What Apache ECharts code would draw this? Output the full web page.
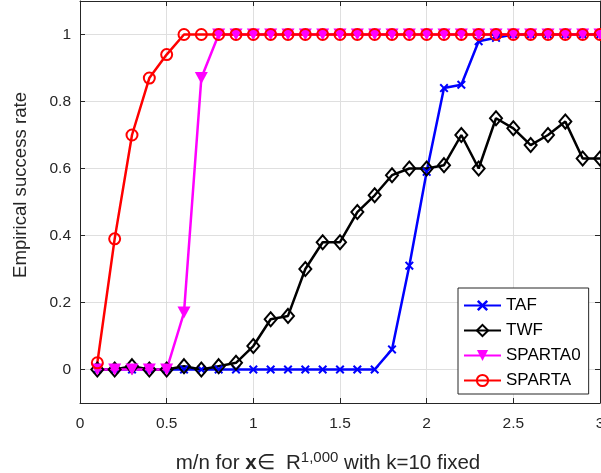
<!DOCTYPE html>
<html>
<head>
<meta charset="utf-8">
<script src="https://cdn.jsdelivr.net/npm/echarts@6/dist/echarts.min.js"></script>
<style>
html, body { margin: 0; padding: 0; background: #fff; }
#chart { width: 601px; height: 473px; }
</style>
</head>
<body>
<div id="chart"></div>
<script>
const xValues = [0.1, 0.2, 0.3, 0.4, 0.5, 0.6, 0.7, 0.8, 0.9, 1.0,
	1.1, 1.2, 1.3, 1.4, 1.5, 1.6, 1.7, 1.8, 1.9, 2.0,
	2.1, 2.2, 2.3, 2.4, 2.5, 2.6, 2.7, 2.8, 2.9, 3.0]
const taf = [0, 0, 0, 0, 0, 0, 0, 0, 0, 0,
	0, 0, 0, 0, 0, 0, 0, 0.06, 0.31, 0.59,
	0.84, 0.85, 0.98, 0.99, 1, 1, 1, 1, 1, 1]
const twf = [0, 0, 0.01, 0, 0, 0.01, 0, 0.01, 0.02, 0.07,
	0.15, 0.16, 0.30, 0.38, 0.38, 0.47, 0.52, 0.58, 0.60, 0.60,
	0.61, 0.70, 0.60, 0.75, 0.72, 0.67, 0.70, 0.74, 0.63, 0.63]
const sparta0 = [0, 0, 0, 0, 0, 0.17, 0.87, 1, 1, 1,
	1, 1, 1, 1, 1, 1, 1, 1, 1, 1,
	1, 1, 1, 1, 1, 1, 1, 1, 1, 1]
const sparta = [0.02, 0.39, 0.70, 0.87, 0.94, 1, 1, 1, 1, 1,
	1, 1, 1, 1, 1, 1, 1, 1, 1, 1,
	1, 1, 1, 1, 1, 1, 1, 1, 1, 1]
const yTicks = [0, 0.2, 0.4, 0.6, 0.8, 1]

const font = "Liberation Sans"
const axisColor = "#262626"
const pairs = (ys) => xValues.map((x, i) => [x, ys[i]])

const crossPath = "path://M0,1.6L1.6,0L5,3.4L8.4,0L10,1.6L6.6,5L10,8.4L8.4,10L5,6.6L1.6,10L0,8.4L3.4,5Z"
const triDownPath = "path://M0,0L10,0L5,10Z"

const chart = echarts.init(document.getElementById("chart"))

const lineSeries = (name, ys, color, symbol, size) => ({
	name: name,
	type: "line",
	data: pairs(ys),
	symbol: symbol,
	symbolSize: size,
	showAllSymbol: true,
	lineStyle: { color: color, width: 2.5 },
	itemStyle: { color: color },
	emphasis: { disabled: true },
	animation: false
})

const option = {
	backgroundColor: "#fff",
	textStyle: { fontFamily: font },
	grid: { left: 80, right: 1, top: 1, bottom: 70, outerBoundsMode: "none", containLabel: false },
	legend: {
		orient: "vertical",
		left: 458,
		top: 288,
		padding: [9, 8, 5, 5],
		itemWidth: 37,
		itemHeight: 14,
		itemGap: 8,
		backgroundColor: "#fff",
		borderColor: axisColor,
		borderWidth: 1,
		borderRadius: 0,
		textStyle: { fontFamily: font, fontSize: 17, color: "#000" },
		data: ["TAF", "TWF", "SPARTA0", "SPARTA"]
	},
	xAxis: [
		{
			type: "value",
			min: 0,
			max: 3,
			interval: 0.5,
			name: "m/n for {b|x}∈  R{sup|1,000} with k=10 fixed",
			nameLocation: "middle",
			nameGap: 47,
			nameTextStyle: {
				fontFamily: font,
				fontSize: 20.5,
				color: axisColor,
				padding: [0, 24, 0, 0],
				rich: {
					b: { fontFamily: font, fontSize: 20.5, fontWeight: "bold", color: axisColor },
					sup: { fontFamily: font, fontSize: 15, color: axisColor, padding: [0, 0, 12, 0] }
				}
			},
			axisLine: { onZero: false, lineStyle: { color: axisColor, width: 1 } },
			axisTick: { inside: true, length: 5, lineStyle: { color: axisColor } },
			axisLabel: { fontFamily: font, fontSize: 15.5, color: axisColor, margin: 13 },
			splitLine: { lineStyle: { color: "#dfdfdf", width: 1 } }
		},
		{
			type: "value",
			position: "top",
			min: 0,
			max: 3,
			interval: 0.5,
			axisLine: { onZero: false, lineStyle: { color: axisColor, width: 1 } },
			axisTick: { inside: true, length: 5, lineStyle: { color: axisColor } },
			axisLabel: { show: false },
			splitLine: { show: false }
		}
	],
	yAxis: [
		{
			type: "value",
			min: -0.1,
			max: 1.1,
			name: "Empirical success rate",
			nameLocation: "middle",
			nameGap: 50,
			nameTextStyle: { fontFamily: font, fontSize: 18.6, color: axisColor, padding: [0, 0, 0, 34] },
			axisLine: { show: true, onZero: false, lineStyle: { color: axisColor, width: 1 } },
			axisTick: { show: true, inside: true, length: 5, customValues: yTicks, lineStyle: { color: axisColor } },
			axisLabel: { fontFamily: font, fontSize: 15.5, color: axisColor, margin: 9, customValues: yTicks },
			splitLine: { lineStyle: { color: "#dfdfdf", width: 1 } }
		},
		{
			type: "value",
			position: "right",
			min: -0.1,
			max: 1.1,
			axisLine: { show: true, onZero: false, lineStyle: { color: axisColor, width: 1 } },
			axisTick: { show: true, inside: true, length: 5, customValues: yTicks, lineStyle: { color: axisColor } },
			axisLabel: { show: false },
			splitLine: { show: false }
		}
	],
	series: [
		lineSeries("TAF", taf, "#0000ff", crossPath, 9),
		Object.assign(lineSeries("TWF", twf, "#000000", "diamond", [12, 14]), {
			itemStyle: { color: "transparent", borderColor: "#000000", borderWidth: 2 }
		}),
		lineSeries("SPARTA0", sparta0, "#ff00ff", triDownPath, [13, 12]),
		Object.assign(lineSeries("SPARTA", sparta, "#ff0000", "circle", 11), {
			itemStyle: { color: "transparent", borderColor: "#ff0000", borderWidth: 2 }
		})
	]
}

chart.setOption(option)
</script>
</body>
</html>
